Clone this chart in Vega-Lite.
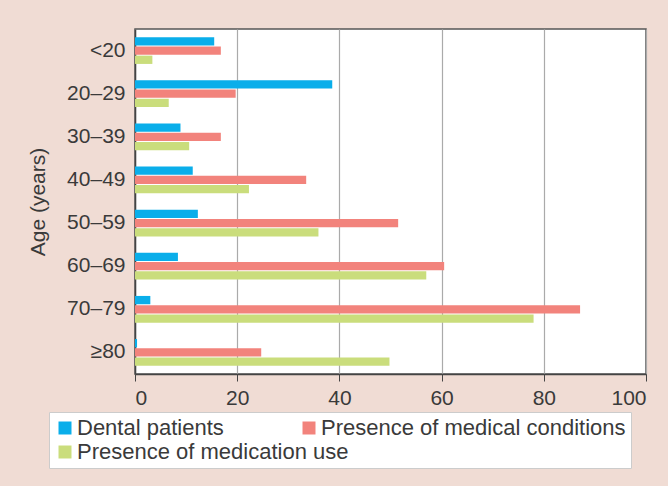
{
  "$schema": "https://vega.github.io/schema/vega-lite/v6.json",
  "width": 511,
  "height": 345,
  "autosize": {"type": "none"},
  "padding": {"left": 135, "top": 29, "right": 22, "bottom": 112},
  "background": "#f0dcd4",
  "config": {
    "font": "Liberation Sans",
    "view": {"fill": "white", "stroke": "#555555", "strokeWidth": 1.5},
    "axis": {"labelFont": "Liberation Sans", "titleFont": "Liberation Sans", "labelColor": "#3a3a3a", "titleColor": "#3a3a3a"}
  },
  "data": {
    "values": [
      {"age": "<20", "series": "Dental patients", "value": 15.5},
      {"age": "<20", "series": "Presence of medical conditions", "value": 16.8},
      {"age": "<20", "series": "Presence of medication use", "value": 3.4},
      {"age": "20–29", "series": "Dental patients", "value": 38.6},
      {"age": "20–29", "series": "Presence of medical conditions", "value": 19.7},
      {"age": "20–29", "series": "Presence of medication use", "value": 6.6},
      {"age": "30–39", "series": "Dental patients", "value": 8.9},
      {"age": "30–39", "series": "Presence of medical conditions", "value": 16.8},
      {"age": "30–39", "series": "Presence of medication use", "value": 10.6},
      {"age": "40–49", "series": "Dental patients", "value": 11.3},
      {"age": "40–49", "series": "Presence of medical conditions", "value": 33.5},
      {"age": "40–49", "series": "Presence of medication use", "value": 22.3},
      {"age": "50–59", "series": "Dental patients", "value": 12.3},
      {"age": "50–59", "series": "Presence of medical conditions", "value": 51.5},
      {"age": "50–59", "series": "Presence of medication use", "value": 35.9},
      {"age": "60–69", "series": "Dental patients", "value": 8.4},
      {"age": "60–69", "series": "Presence of medical conditions", "value": 60.5},
      {"age": "60–69", "series": "Presence of medication use", "value": 57.0},
      {"age": "70–79", "series": "Dental patients", "value": 3.0},
      {"age": "70–79", "series": "Presence of medical conditions", "value": 87.1},
      {"age": "70–79", "series": "Presence of medication use", "value": 78.0},
      {"age": "≥80", "series": "Dental patients", "value": 0.4},
      {"age": "≥80", "series": "Presence of medical conditions", "value": 24.7},
      {"age": "≥80", "series": "Presence of medication use", "value": 49.8}
    ]
  },
  "mark": {"type": "bar"},
  "encoding": {
    "y": {
      "field": "age",
      "type": "nominal",
      "sort": ["<20", "20–29", "30–39", "40–49", "50–59", "60–69", "70–79", "≥80"],
      "scale": {"paddingInner": 0.38, "paddingOuter": 0.19},
      "axis": {
        "title": "Age (years)",
        "titleFontSize": 21,
        "titleFontWeight": "normal",
        "titlePadding": 18,
        "labelFontSize": 21,
        "labelPadding": 10,
        "ticks": false,
        "domainColor": "#444444",
        "domainWidth": 1.5
      }
    },
    "yOffset": {
      "field": "series",
      "type": "nominal",
      "sort": ["Dental patients", "Presence of medical conditions", "Presence of medication use"],
      "scale": {"paddingInner": 0.1}
    },
    "x": {
      "field": "value",
      "type": "quantitative",
      "scale": {"domain": [0, 100], "nice": false},
      "axis": {
        "title": null,
        "values": [0, 20, 40, 60, 80, 100],
        "labelFontSize": 21,
        "labelPadding": 6,
        "tickSize": 7,
        "tickColor": "#444444",
        "domainColor": "#444444",
        "domainWidth": 1.5,
        "grid": true,
        "gridColor": "#aaaaaa",
        "gridWidth": 1.2
      }
    },
    "color": {
      "field": "series",
      "type": "nominal",
      "sort": ["Dental patients", "Presence of medical conditions", "Presence of medication use"],
      "scale": {
        "domain": ["Dental patients", "Presence of medical conditions", "Presence of medication use"],
        "range": ["#0aaeea", "#f2837c", "#cadd7c"]
      },
      "legend": {
        "title": null,
        "orient": "none",
        "legendX": -86,
        "legendY": 383,
        "direction": "horizontal",
        "columns": 2,
        "gridAlign": "none",
        "columnPadding": -51,
        "rowPadding": 2,
        "symbolType": "square",
        "symbolSize": 169,
        "symbolStrokeWidth": 0,
        "labelFontSize": 22,
        "labelFont": "Liberation Sans",
        "labelColor": "#3a3a3a",
        "labelOffset": 1,
        "labelLimit": 400,
        "padding": 5,
        "fillColor": "white",
        "strokeColor": "#cccccc"
      }
    }
  }
}
